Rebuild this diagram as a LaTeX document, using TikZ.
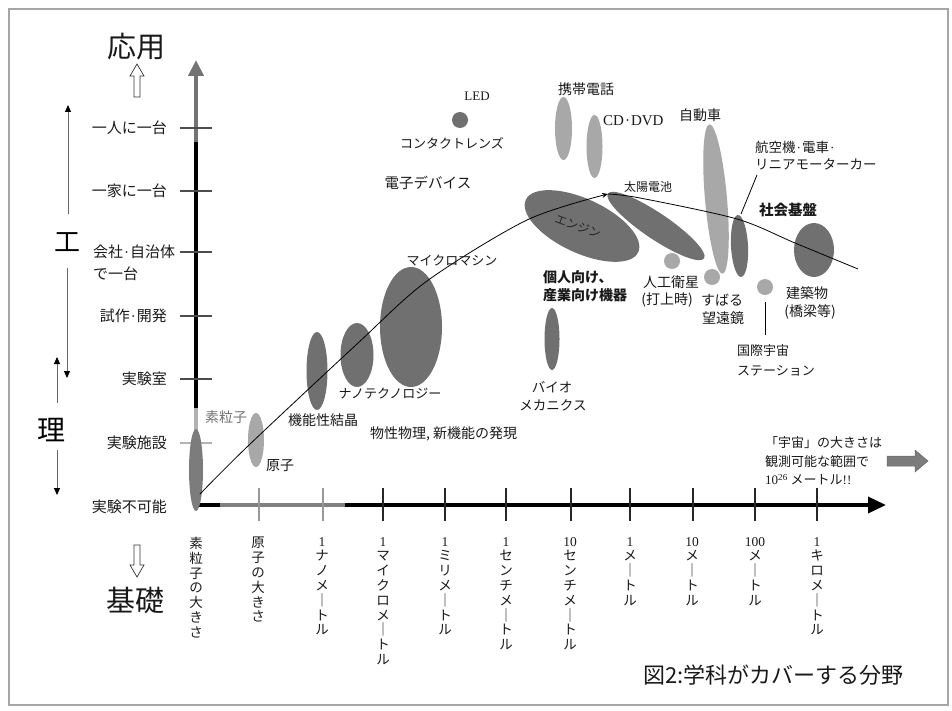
\documentclass[tikz,border=0pt]{standalone}
\usepackage{fontspec}
\setmainfont{Noto Sans CJK JP}
\newfontfamily\serif{Liberation Serif}
\usetikzlibrary{arrows.meta}
\definecolor{dk}{HTML}{707070}
\definecolor{lt}{HTML}{A8A8A8}
\definecolor{md}{HTML}{7C7C7C}
\newcommand\fsz[2]{\fontsize{#1}{#2}\selectfont}
\newcommand\mdot{{\serif\kern1pt·\kern1pt}}
\tikzset{
  lab/.style={inner sep=0pt, text=black!90, font=\fsz{14}{17}},
  ylab/.style={anchor=east, inner sep=0pt, text=black!90, font=\fsz{15}{22}},
  vlab/.style={anchor=north, inner sep=0pt, align=center, text=black!90, font=\fsz{13.5}{14.8}},
  ytick/.style={line width=1.2pt, black!70},
  xtick/.style={line width=1.2pt, black!85},
  side/.style={line width=0.9pt, black!60, -{Triangle[length=7pt,width=6pt,black]}},
  big/.style={inner sep=0pt, text=black!90, font=\fsz{29}{32}},
  hollow/.style={draw=black!80, line width=0.7pt, fill=white},
  curve/.style={line width=0.8pt, black},
}
\begin{document}
\begin{tikzpicture}[x=1pt,y=-1pt]
\useasboundingbox (0,0) rectangle (952,711);
\draw[black!35, line width=1.2pt] (9,9) rectangle (948,705);

% big side labels
\node[big] (oyo) at (136,47) {応用};
\draw[hollow] (130,76) -- (137,64) -- (144,76) -- (140,76) -- (140,97) -- (134,97) -- (134,76) -- cycle;
\node[big] (kiso) at (135,600) {基礎};
\draw[hollow] (134,545) -- (140,545) -- (140,565) -- (144,565) -- (137,577) -- (130,565) -- (134,565) -- cycle;
\node[inner sep=0pt, font=\fsz{26}{28}] (ko) at (67,242) {工};
\node[inner sep=0pt, font=\fsz{28}{30}] (ri) at (51,430) {理};
\draw[side] (68,214) -- (68,105);
\draw[side] (67,268) -- (67,378);
\draw[side] (57,403) -- (57,357);
\draw[side] (57,450) -- (57,495);

% axes
\coordinate (O) at (196,505);
\draw[line width=4.5pt, black!55, -{Triangle[length=16pt,width=15pt]}] (196,142) -- (196,60);
\draw[line width=4.5pt, black] (196,408) -- (196,142);
\draw[line width=4.5pt, black!30] (O) -- (196,408);
\draw[line width=3.5pt, black] (194,505) -- (220,505);
\draw[line width=3.5pt, black!50] (220,505) -- (345,505);
\draw[line width=3.5pt, black, -{Triangle[length=18pt,width=16pt]}] (345,505) -- (886,505);

% y ticks and labels
\foreach \yy in {128,191,252,316,379} \draw[ytick] (180,\yy) -- (212,\yy);
\draw[ytick, black!30] (180,443) -- (212,443);
\node[ylab] (y1) at (167,128) {一人に一台};
\node[ylab] (y2) at (167,191) {一家に一台};
\node[inner sep=0pt, anchor=west, align=left, text=black!90, font=\fsz{15}{22}] (y3) at (93,263) {会社\mdot 自治体\\で一台};
\node[ylab] (y4) at (167,316) {試作\mdot 開発};
\node[ylab] (y5) at (167,379) {実験室};
\node[ylab] (y6) at (167,443) {実験施設};
\node[ylab] (y7) at (167,507) {実験不可能};

% x ticks and labels
\foreach \xx in {259,323} \draw[xtick, black!40] (\xx,488) -- (\xx,521);
\foreach \xx in {383,445,506,571,630,693,755,817} \draw[xtick] (\xx,488) -- (\xx,521);
\node[vlab] (x0) at (196,537) {素\\粒\\子\\の\\大\\き\\さ};
\node[vlab] (x1) at (258,537) {原\\子\\の\\大\\き\\さ};
\node[vlab] (x2) at (322,537) {{\serif 1}\\ナ\\ノ\\メ\\｜\\ト\\ル};
\node[vlab] (x3) at (383,537) {{\serif 1}\\マ\\イ\\ク\\ロ\\メ\\｜\\ト\\ル};
\node[vlab] (x4) at (445,537) {{\serif 1}\\ミ\\リ\\メ\\｜\\ト\\ル};
\node[vlab] (x5) at (506,537) {{\serif 1}\\セ\\ン\\チ\\メ\\｜\\ト\\ル};
\node[vlab] (x6) at (570,537) {{\serif 10}\\セ\\ン\\チ\\メ\\｜\\ト\\ル};
\node[vlab] (x7) at (630,537) {{\serif 1}\\メ\\｜\\ト\\ル};
\node[vlab] (x8) at (692,537) {{\serif 10}\\メ\\｜\\ト\\ル};
\node[vlab] (x9) at (755,537) {{\serif 100}\\メ\\｜\\ト\\ル};
\node[vlab] (x10) at (817,537) {{\serif 1}\\キ\\ロ\\メ\\｜\\ト\\ル};

% ellipses
\fill[md] (196,470) ellipse[x radius=7, y radius=41];
\fill[lt] (256,440) ellipse[x radius=8, y radius=27];
\fill[dk] (317,371) ellipse[x radius=10.5, y radius=39];
\fill[dk] (357,355) ellipse[x radius=16.5, y radius=32];
\fill[dk] (411,327) ellipse[x radius=31, y radius=60];
\fill[dk] (460,120) circle[radius=8];
\fill[lt] (563.5,128.5) ellipse[x radius=8.5, y radius=31.5];
\fill[lt] (594.5,146.5) ellipse[x radius=8, y radius=31.5];
\fill[dk, rotate around={-25:(582,226)}] (582,226) ellipse[x radius=62, y radius=27];
\fill[dk, rotate around={-34:(656,226)}] (656,226) ellipse[x radius=58, y radius=13];
\fill[lt, rotate around={5:(716,199)}] (716,199) ellipse[x radius=11, y radius=75];
\fill[lt] (672,261) circle[radius=8];
\fill[lt] (712,277) circle[radius=8];
\fill[dk, rotate around={3:(739.5,246)}] (739.5,246) ellipse[x radius=8.5, y radius=31];
\fill[dk] (814,250) ellipse[x radius=20, y radius=27];
\fill[lt] (765,287) circle[radius=8];
\fill[dk] (552,339) ellipse[x radius=7.5, y radius=31];

% trend curve
\draw[curve, -{Stealth[length=6pt,width=5pt]}] plot[smooth] coordinates {(200,494) (248,446) (357,344) (427,281) (527,220) (608,194)};
\draw[curve] plot[smooth] coordinates {(608,194) (640,198) (737,219) (795,243) (858,269)};

% item labels
\node[lab, font=\serif\fsz{13}{15}] (led) at (477,96) {LED};
\node[lab, font=\fsz{13}{15}] (contact) at (452,143) {コンタクトレンズ};
\node[lab, font=\fsz{14.5}{17}] (denshi) at (428,183) {電子デバイス};
\node[lab] (keitai) at (586,89) {携帯電話};
\node[lab, anchor=west, font=\serif\fsz{15}{17}] (cd) at (603,121) {CD\kern1pt·\kern1pt DVD};
\node[lab] (jidosha) at (700,115) {自動車};
\node[lab, anchor=west, align=left, font=\fsz{13.5}{17}] (koku) at (755,155.5) {航空機\mdot 電車\mdot\\リニアモーターカー};
\draw[line width=0.8pt] (741,214) -- (757,175);
\node[lab, font=\bfseries\fsz{14.5}{17}] (shakai) at (788,210) {社会基盤};
\node[lab, font=\fsz{12}{14}] (taiyo) at (648,187) {太陽電池};
\node[lab, font=\fsz{12}{14}, text=black!85, rotate=-20] (engine) at (578,226) {エンジン};
\node[lab, font=\fsz{13}{15}] (micro) at (452,261) {マイクロマシン};
\node[lab, font=\fsz{13}{15}] (nano) at (390,394) {ナノテクノロジー};
\node[lab] (kino) at (323,420) {機能性結晶};
\node[lab, text=black!55] (soryushi) at (226,417) {素粒子};
\node[lab] (genshi) at (280,466) {原子};
\node[lab, anchor=west] (bussei) at (370,434) {物性物理, 新機能の発現};
\node[lab, anchor=west, align=left, font=\bfseries\fsz{14}{18}] (kojin) at (543,286) {個人向け、\\産業向け機器};
\node[lab] (jinko) at (671,282) {人工衛星};
\node[lab] (uchiage) at (667,300) {(打上時)};
\node[lab] (subaru) at (722,300) {すばる};
\node[lab] (bouen) at (723,318) {望遠鏡};
\draw[line width=0.8pt] (765,302) -- (765,335);
\node[lab, anchor=west, align=left, font=\fsz{13}{20}] (iss) at (737,360) {国際宇宙\\ステーション};
\node[lab] (kenchiku) at (807,293) {建築物};
\node[lab] (kyoryo) at (810,312) {(橋梁等)};
\node[lab, font=\fsz{13.5}{15}] (bio1) at (552,387) {バイオ};
\node[lab, font=\fsz{13.5}{15}] (bio2) at (553,405) {メカニクス};
\node[lab, anchor=west, align=left, font=\fsz{13}{18.5}] (uchu) at (765,461) {「宇宙」の大きさは\\観測可能な範囲で\\{\serif 10\textsuperscript{26}} メートル{\serif !!}};
\fill[md, draw=black!60, line width=0.5pt] (887,456) -- (915,456) -- (915,450) -- (928,461) -- (915,472) -- (915,466) -- (887,466) -- cycle;

% caption
\node[inner sep=0pt, anchor=west, text=black!90, font=\fsz{22}{24}] (caption) at (643,675) {図2:学科がカバーする分野};
\end{tikzpicture}
\end{document}
